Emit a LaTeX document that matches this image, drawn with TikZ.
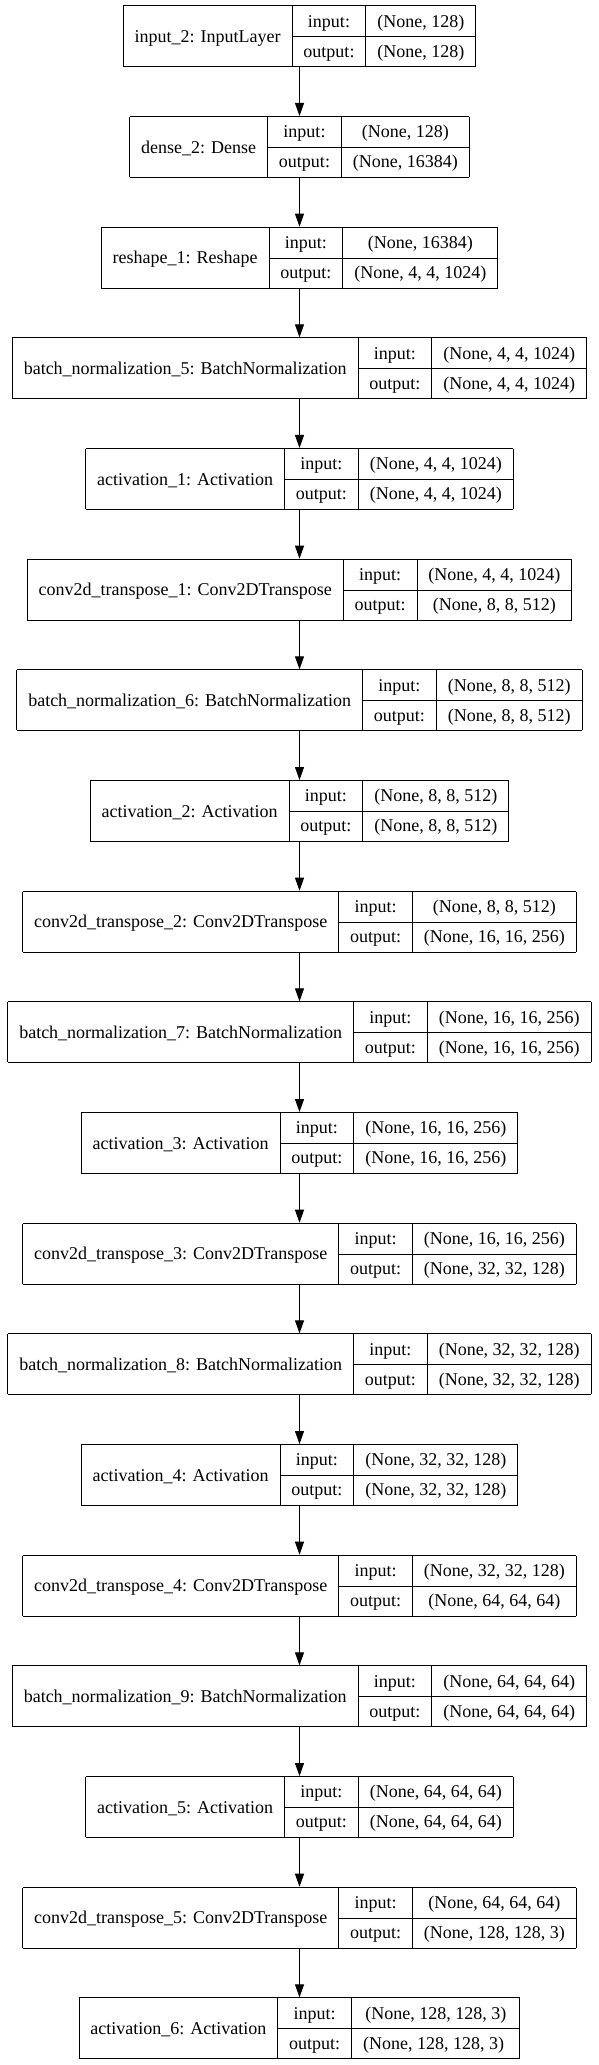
\documentclass[tikz,border=0pt]{standalone}
\usepackage{fontspec}
\setmainfont{Liberation Serif}
\usetikzlibrary{arrows.meta}

\newcommand{\rowstrut}{\rule[-9.3pt]{0pt}{30pt}}
\newcommand{\layertab}[3]{%
	\setlength{\tabcolsep}{11.4pt}%
	\setlength{\arrayrulewidth}{1pt}%
	\begin{tabular}{|c|c|c|}
		\hline
		& \rowstrut input: & #2 \\ \cline{2-3}
		\raisebox{14.5pt}[0pt][0pt]{#1} & \rowstrut output: & #3 \\
		\hline
	\end{tabular}}

\begin{document}
\begin{tikzpicture}[x=1pt,y=1pt,
	layer/.style={inner sep=0pt,outer sep=0pt,font=\fontsize{18}{21}\selectfont},
	arr/.style={-{Triangle[length=13pt,width=9pt]},line width=1pt}]
	\useasboundingbox (0,0) rectangle (599,-2065);
	\foreach \nm/\ins/\outs [count=\i from 0] in {
		{input\_2: InputLayer}/{(None, 128)}/{(None, 128)},
		{dense\_2: Dense}/{(None, 128)}/{(None, 16384)},
		{reshape\_1: Reshape}/{(None, 16384)}/{(None, 4, 4, 1024)},
		{batch\_normalization\_5: BatchNormalization}/{(None, 4, 4, 1024)}/{(None, 4, 4, 1024)},
		{activation\_1: Activation}/{(None, 4, 4, 1024)}/{(None, 4, 4, 1024)},
		{conv2d\_transpose\_1: Conv2DTranspose}/{(None, 4, 4, 1024)}/{(None, 8, 8, 512)},
		{batch\_normalization\_6: BatchNormalization}/{(None, 8, 8, 512)}/{(None, 8, 8, 512)},
		{activation\_2: Activation}/{(None, 8, 8, 512)}/{(None, 8, 8, 512)},
		{conv2d\_transpose\_2: Conv2DTranspose}/{(None, 8, 8, 512)}/{(None, 16, 16, 256)},
		{batch\_normalization\_7: BatchNormalization}/{(None, 16, 16, 256)}/{(None, 16, 16, 256)},
		{activation\_3: Activation}/{(None, 16, 16, 256)}/{(None, 16, 16, 256)},
		{conv2d\_transpose\_3: Conv2DTranspose}/{(None, 16, 16, 256)}/{(None, 32, 32, 128)},
		{batch\_normalization\_8: BatchNormalization}/{(None, 32, 32, 128)}/{(None, 32, 32, 128)},
		{activation\_4: Activation}/{(None, 32, 32, 128)}/{(None, 32, 32, 128)},
		{conv2d\_transpose\_4: Conv2DTranspose}/{(None, 32, 32, 128)}/{(None, 64, 64, 64)},
		{batch\_normalization\_9: BatchNormalization}/{(None, 64, 64, 64)}/{(None, 64, 64, 64)},
		{activation\_5: Activation}/{(None, 64, 64, 64)}/{(None, 64, 64, 64)},
		{conv2d\_transpose\_5: Conv2DTranspose}/{(None, 64, 64, 64)}/{(None, 128, 128, 3)},
		{activation\_6: Activation}/{(None, 128, 128, 3)}/{(None, 128, 128, 3)}
	}
		\node[layer] (l\i) at (299.5,{-36.3-110.67*\i}) {\layertab{\nm}{\ins}{\outs}};
	\foreach \i [count=\j from 0] in {1,...,18}
		\draw[arr] (l\j) -- (l\i);
\end{tikzpicture}
\end{document}
